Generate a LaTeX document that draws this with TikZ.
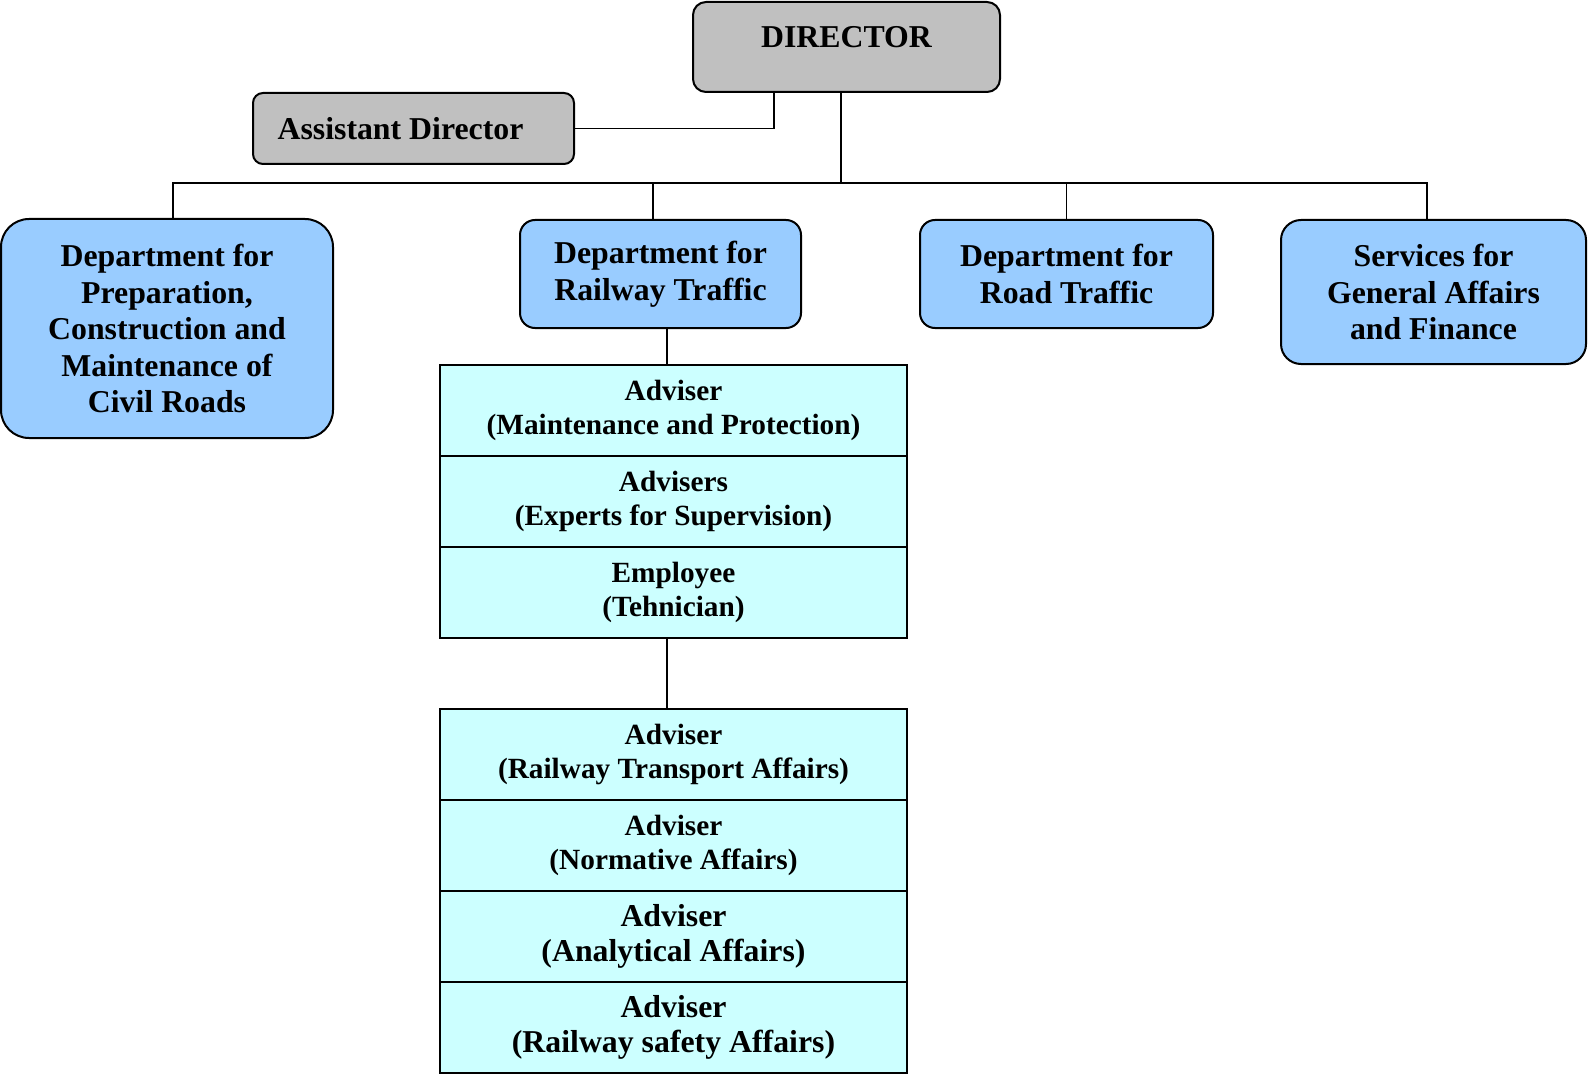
\documentclass[tikz,border=0pt]{standalone}
\usepackage{fontspec}
\setmainfont{Liberation Serif}
\usepackage{tikz}
\usetikzlibrary{positioning}
\definecolor{headgray}{RGB}{192,192,192}
\definecolor{deptblue}{RGB}{153,204,255}
\definecolor{staffcyan}{RGB}{204,255,255}
\tikzset{
  wire/.style={black,line width=1.8pt},
  head/.style={draw=black,line width=2pt,fill=headgray,rounded corners=13pt,
               inner sep=0pt,align=center,font=\fontsize{31.8}{36.5}\selectfont\bfseries},
  dept/.style={head,fill=deptblue},
  staff/.style={draw=black,line width=1.8pt,fill=staffcyan,inner sep=0pt,
                minimum width=467pt,minimum height=91pt,align=center,
                font=\fontsize{29.3}{34.5}\selectfont\bfseries},
  staffbig/.style={staff,font=\fontsize{31.8}{35.5}\selectfont\bfseries},
}
\begin{document}
\begin{tikzpicture}[x=1pt,y=-1pt]
  \path[use as bounding box] (0,0) rectangle (1589,1075);

  % top level
  \node[head,minimum width=307pt,text height=45.5pt,text depth=44.5pt] (director) at (846.5,47) {DIRECTOR};
  \node[head,rounded corners=10pt,minimum width=321pt,minimum height=71pt] (asst) at (413.5,128.5)
    {Assistant Director\hspace*{26pt}};

  % departments
  \node[dept,rounded corners=28pt,minimum width=332pt,minimum height=219pt] (civil) at (167,328.5)
    {Department for\\Preparation,\\Construction and\\Maintenance of\\Civil Roads};
  \node[dept,rounded corners=15pt,minimum width=281pt,minimum height=108pt] (rail) at (660.5,274)
    {Department for\\Railway Traffic};
  \node[dept,rounded corners=15pt,minimum width=293pt,minimum height=108pt] (road) at (1066.5,274)
    {Department for\\Road Traffic};
  \node[dept,rounded corners=20pt,minimum width=305pt,minimum height=144pt] (services) at (1433.5,292)
    {Services for\\General Affairs\\and Finance};

  % railway staff
  \node[staff] (maint) at (673.5,410.5) {Adviser\\(Maintenance and Protection)};
  \node[staff] (experts) at (673.5,501.5) {Advisers\\(Experts for Supervision)};
  \node[staff] (tech) at (673.5,592.5) {Employee\\(Tehnician)};

  \node[staff] (transport) at (673.5,754.5) {Adviser\\(Railway Transport Affairs)};
  \node[staff] (normative) at (673.5,845.5) {Adviser\\(Normative Affairs)};
  \node[staffbig] (analytic) at (673.5,936.5) {Adviser\\(Analytical Affairs)};
  \node[staffbig] (safety) at (673.5,1027.5) {Adviser\\(Railway safety Affairs)};

  % connectors
  \coordinate (bus) at (841,183);
  \draw[wire] ([xshift=-72.5pt]director.south) |- (asst.east);
  \draw[wire] ([xshift=-5.5pt]director.south) -- (bus);
  \draw[wire] ([xshift=6pt]civil.north) |- (bus) -| ([xshift=-6.5pt]services.north);
  \draw[wire] ([xshift=-7.5pt]rail.north) -- ([xshift=-7.5pt]rail.north |- bus);
  \draw[wire] (road.north) -- (road.north |- bus);
  \draw[wire] ([xshift=6.5pt]rail.south) -- ([xshift=-6.5pt]maint.north);
  \draw[wire] ([xshift=-6.5pt]tech.south) -- ([xshift=-6.5pt]transport.north);
\end{tikzpicture}
\end{document}
